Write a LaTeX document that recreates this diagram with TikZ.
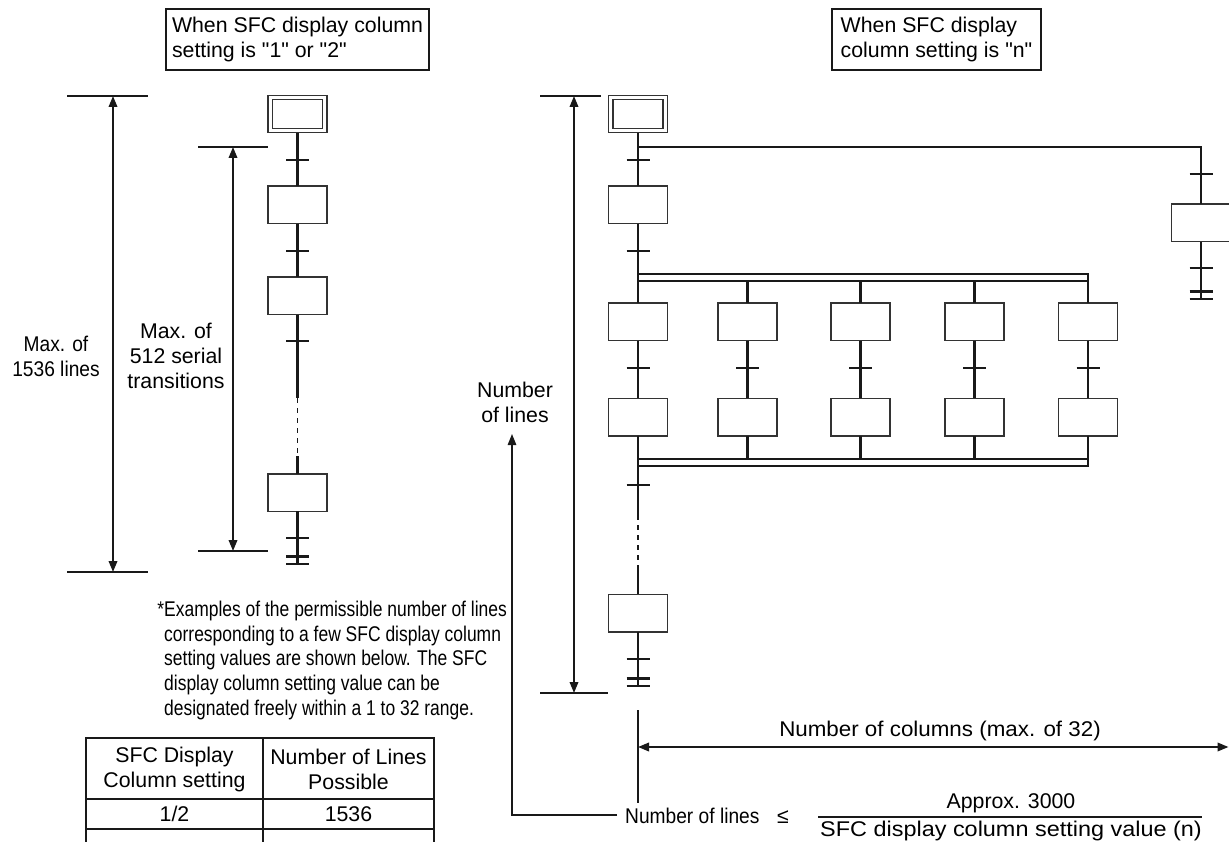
\documentclass[tikz,border=0pt]{standalone}
\usepackage{fontspec}
\setmainfont{Liberation Sans}[Ligatures=TeXOff]
\newfontfamily\narrowfont{Liberation Sans}[Ligatures=TeXOff, FakeStretch=0.82]
\newfontfamily\lnarrowfont{Liberation Sans}[Ligatures=TeXOff, FakeStretch=0.9]
\newfontfamily\widefont{Liberation Sans}[Ligatures=TeXOff, FakeStretch=1.1]
\newfontfamily\swidefont{Liberation Sans}[Ligatures=TeXOff, FakeStretch=1.05]
\usetikzlibrary{arrows.meta,calc}
\newcommand\sfctrans[1]{\draw[wire] ([xshift=-11.5pt]#1) -- ([xshift=11.5pt]#1);}
\newcommand\sfcend[1]{\draw[wire] ([xshift=-11.5pt]#1) -- ([xshift=11.5pt]#1);
  \draw[wire] ([shift={(-11.5pt,7.5pt)}]#1) -- ([shift={(11.5pt,7.5pt)}]#1);}
\tikzset{
  stepbox/.style={draw=black!80, line width=1.5pt, minimum width=59pt, minimum height=37.5pt, inner sep=0pt, outer sep=0pt},
  initbox/.style={draw=black!80, double=white, double distance=3.2pt, line width=1.3pt, minimum width=54.5pt, minimum height=33pt, inner sep=0pt, outer sep=2.9pt},
  wire/.style={line width=2.1pt, draw=black!90},
  thinwire/.style={line width=1.3pt, draw=black!90},
  dashwire/.style={wire, line width=1.6pt, dash pattern=on 5pt off 5pt},
  dimline/.style={line width=2pt, draw=black!90},
  dimarrow/.style={dimline, {Triangle[length=11pt,width=8.5pt]}-{Triangle[length=11pt,width=8.5pt]}},
  uparrow/.style={thinwire, -{Triangle[length=11pt,width=8.5pt]}},
  lbl/.style={align=center, inner sep=0pt},
  titlebox/.style={draw=black!90, line width=1.3pt, align=left, inner sep=0pt, minimum height=61pt},
  tbl/.style={line width=1.3pt, draw=black!90}
}
\begin{document}
\begin{tikzpicture}[x=1pt,y=-1pt,font=\fontsize{21.3}{25}\selectfont]
\useasboundingbox (0,0) rectangle (1229,842);

% ---------- title boxes ----------
\node[titlebox, minimum width=263pt] (tl) at (297.5,39.5) {When SFC display column\\setting is "1" or "2"};
\node[titlebox, minimum width=209pt] (tr) at (936.5,39.5) {When SFC display\\column setting is "n"};

% ---------- left chart ----------
\node[initbox] (L0) at (297.5,114) {};
\node[stepbox] (L1) at (297.5,205) {};
\node[stepbox] (L2) at (297.5,296) {};
\node[stepbox] (L3) at (297.5,492.5) {};
\coordinate (Lt1) at (297.5,160);
\coordinate (Lt2) at (297.5,251);
\coordinate (Lt3) at (297.5,341);
\coordinate (Lt4) at (297.5,538);
\coordinate (Ld1) at (297.5,398);
\coordinate (Ld2) at (297.5,456);
\coordinate (Lend) at (297.5,564);
\draw[wire] (L0) -- (L1);
\draw[wire] (L1) -- (L2);
\draw[wire] (L2) -- (Ld1);
\draw[dashwire] (Ld1) -- (Ld2);
\draw[wire] (Ld2) -- (L3);
\draw[wire] (L3) -- (Lend);
\foreach \c in {Lt1,Lt2,Lt3,Lt4} {\sfctrans{\c}}
\sfcend{Lend}

% left dimensions
\coordinate (Oa) at (67,96);  \coordinate (Ob) at (148,96);
\coordinate (Oc) at (67,572); \coordinate (Od) at (148,572);
\coordinate (Ou) at (113,96); \coordinate (Ol) at (113,572);
\draw[dimline] (Oa) -- (Ob);
\draw[dimline] (Oc) -- (Od);
\draw[dimarrow] (Ou) -- (Ol);
\coordinate (Ia) at (198,147); \coordinate (Ib) at (268,147);
\coordinate (Ic) at (198,551); \coordinate (Id) at (268,551);
\coordinate (Iu) at (233,147); \coordinate (Il) at (233,551);
\draw[dimline] (Ia) -- (Ib);
\draw[dimline] (Ic) -- (Id);
\draw[dimarrow] (Iu) -- (Il);
\node[lbl, font=\lnarrowfont\fontsize{21.3}{25}\selectfont] (max1536) at (56,356) {Max. of\\1536 lines};
\node[lbl] (max512) at (176,356) {Max. of\\512 serial\\transitions};

% ---------- right chart ----------
\node[initbox] (R0) at (638,114) {};
\node[stepbox] (R1) at (638,205) {};
\coordinate (Rt1) at (638,160);
\coordinate (Rt2) at (638,251);
\coordinate (Rbr) at (638,147);
\coordinate (Rbc) at (1201,147);
\node[stepbox] (RB) at (1201,223) {};
\coordinate (RBt1) at (1201,174);
\coordinate (RBt2) at (1201,268);
\coordinate (RBend) at (1201,299);
\draw[wire] (R0) -- (R1);
\draw[wire] (Rbr) -- (Rbc) -- (RB);
\draw[wire] (RB) -- (RBend);
\sfctrans{RBt1} \sfctrans{RBt2} \sfcend{RBend}

% parallel branch
\foreach \i/\x in {1/638,2/747.5,3/860.5,4/974.5,5/1088} {
  \node[stepbox] (Ra\i) at (\x,322) {};
  \node[stepbox] (Rb\i) at (\x,417) {};
  \coordinate (Rm\i) at (\x,368);
  \coordinate (Dv\i) at (\x,281);
  \coordinate (Cv\i) at (\x,459);
}
\coordinate (DvT1) at (638,274); \coordinate (DvT5) at (1088,274);
\coordinate (CvB1) at (638,466); \coordinate (CvB5) at (1088,466);
\draw[wire] (DvT1) -- (DvT5) -- (Dv5) -- (Dv1);
\draw[wire] (Cv1) -- (Cv5) -- (CvB5) -- (CvB1);
\draw[wire] (R1) -- (Ra1);
\foreach \i in {2,...,5} {\draw[wire] (Dv\i) -- (Ra\i); \draw[wire] (Rb\i) -- (Cv\i);}
\foreach \i in {1,...,5} {\draw[wire] (Ra\i) -- (Rb\i); \sfctrans{Rm\i}}
\sfctrans{Rt1} \sfctrans{Rt2}

\coordinate (Rt3) at (638,485);
\coordinate (Rd1) at (638,515);
\coordinate (Rd2) at (638,566);
\node[stepbox] (R9) at (638,613) {};
\coordinate (Rt4) at (638,659);
\coordinate (Rend) at (638,686);
\draw[wire] (Rb1) -- (Rd1);
\draw[dashwire] (Rd1) -- (Rd2);
\draw[wire] (Rd2) -- (R9);
\draw[wire] (R9) -- (Rend);
\sfctrans{Rt3} \sfctrans{Rt4} \sfcend{Rend}

% right dimensions
\coordinate (Pa) at (540,96);  \coordinate (Pb) at (601,96);
\coordinate (Pc) at (540,693); \coordinate (Pd) at (608,693);
\coordinate (Pu) at (574,96);  \coordinate (Pl) at (574,693);
\draw[dimline] (Pa) -- (Pb);
\draw[dimline] (Pc) -- (Pd);
\draw[dimarrow] (Pu) -- (Pl);

\coordinate (Va) at (638,710); \coordinate (Vb) at (638,803);
\draw[dimline] (Va) -- (Vb);
\coordinate (Ha) at (638,747); \coordinate (Hb) at (1228.5,747);
\draw[dimarrow] (Ha) -- (Hb);
\node[lbl, font=\swidefont\fontsize{21.3}{25}\selectfont] (numcol) at (940,731) {Number of columns (max. of 32)};

% number of lines label and formula
\node[lbl] (numlines) at (515,402) {Number\\of lines};
\node[lbl, anchor=base west, font=\lnarrowfont\fontsize{21.3}{25}\selectfont] (frm) at (625,823) {Number of lines};
\node[lbl, anchor=base] (le) at (783,823) {≤};
\node[lbl] (num) at (1011,803) {Approx. 3000};
\node[lbl, font=\widefont\fontsize{21.3}{25}\selectfont] (den) at (1011,831) {SFC display column setting value (n)};
\coordinate (fb1) at (818,817); \coordinate (fb2) at (1202,817);
\draw[thinwire] (fb1) -- (fb2);
\coordinate (corner) at (512,815);
\coordinate (uptip) at (512,434);
\draw[uparrow] ([xshift=-8pt]frm.west |- corner) -- (corner) -- (uptip);

% ---------- note ----------
\begin{scope}[every node/.style={lbl, anchor=base west, font=\narrowfont\fontsize{21.3}{25}\selectfont}]
\node (note1) at (164,616) {\llap{*}Examples of the permissible number of lines};
\node (note2) at (164,641) {corresponding to a few SFC display column};
\node (note3) at (164,665.5) {setting values are shown below. The SFC};
\node (note4) at (164,690) {display column setting value can be};
\node (note5) at (164,715) {designated freely within a 1 to 32 range.};
\end{scope}

% ---------- table ----------
\draw[tbl] (86,842) -- (86,738) -- (434,738) -- (434,842);
\draw[tbl] (263,738) -- (263,842);
\draw[tbl] (86,799) -- (434,799);
\draw[tbl] (86,829) -- (434,829);
\node[lbl] (h1) at (174.5,769) {SFC Display\\Column setting};
\node[lbl] (h2) at (348.5,769) {Number of Lines\\Possible};
\node[lbl] (c1) at (174.5,814) {1/2};
\node[lbl] (c2) at (348.5,814) {1536};
\end{tikzpicture}
\end{document}
